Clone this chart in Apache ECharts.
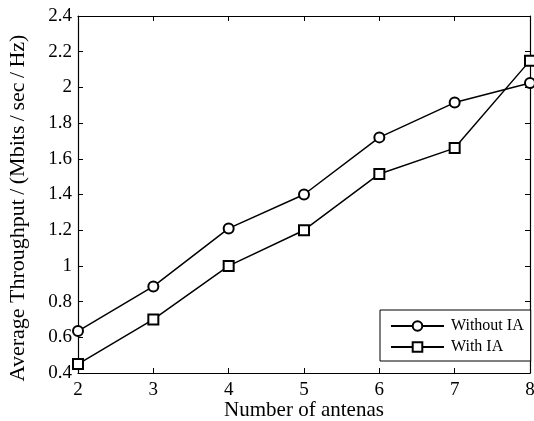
<!DOCTYPE html>
<html><head><meta charset="utf-8">
<script src="https://cdn.jsdelivr.net/npm/echarts@6/dist/echarts.min.js"></script>
<style>html,body{margin:0;padding:0;background:#fff}#c{width:534px;height:421px}</style>
</head><body><div id="c"></div>
<script>
const categories = [2, 3, 4, 5, 6, 7, 8];
const withoutIA = [0.635, 0.885, 1.21, 1.40, 1.72, 1.915, 2.025];
const withIA = [0.45, 0.70, 1.00, 1.20, 1.515, 1.66, 2.15];
const seriesNames = ['Without IA', 'With IA'];
const xTitle = 'Number of antenas';
const yTitle = 'Average Throughput\u2009/\u2009(Mbits\u2009/\u2009sec\u2009/\u2009Hz)';

const font = 'Liberation Serif';
const chart = echarts.init(document.getElementById('c'));
const axisLine = {show: true, lineStyle: {color: '#000', width: 1.2}};
const tick = {show: true, inside: true, length: 5, lineStyle: {color: '#000', width: 1}};
chart.setOption({
  animation: false,
  backgroundColor: '#fff',
  grid: {left: 78, right: 4, top: 16, bottom: 48, containLabel: false, outerBoundsMode: 'none'},
  graphic: [{
    type: 'text', x: 18, y: 208, rotation: Math.PI / 2,
    style: {text: yTitle, fontFamily: font, fontSize: 22, fill: '#000',
      align: 'center', verticalAlign: 'middle'}
  }, {
    type: 'text', x: 304, y: 410,
    style: {text: xTitle, fontFamily: font, fontSize: 21, fill: '#000',
      align: 'center', verticalAlign: 'middle'}
  }],
  legend: {
    data: seriesNames,
    orient: 'vertical', left: 380, top: 310,
    padding: [8, 7, 6, 10], itemGap: 5,
    itemWidth: 53, itemHeight: 12,
    borderColor: '#000', borderWidth: 1, backgroundColor: '#fff', borderRadius: 0,
    textStyle: {fontFamily: font, fontSize: 16, lineHeight: 16, color: '#000', padding: [0, 0, 0, 2]}
  },
  xAxis: [{
    type: 'value', min: 2, max: 8, interval: 1,
    axisLine, axisTick: tick, splitLine: {show: false},
    axisLabel: {fontFamily: font, fontSize: 19, color: '#000', margin: 8}
  }, {
    type: 'value', min: 2, max: 8, interval: 1, position: 'top',
    axisLine, axisTick: tick, axisLabel: {show: false}, splitLine: {show: false}
  }],
  yAxis: [{
    type: 'value', min: 0.4, max: 2.4, interval: 0.2,
    axisLine, axisTick: tick, splitLine: {show: false},
    axisLabel: {fontFamily: font, fontSize: 19, color: '#000', margin: 6,
      formatter: v => String(Math.round(v * 10) / 10)}
  }, {
    type: 'value', min: 0.4, max: 2.4, interval: 0.2, position: 'right',
    axisLine, axisTick: tick, axisLabel: {show: false}, splitLine: {show: false}
  }],
  series: [{
    name: seriesNames[0], type: 'line',
    data: categories.map((x, i) => [x, withoutIA[i]]),
    symbol: 'emptyCircle', symbolSize: 10,
    lineStyle: {color: '#000', width: 1.5},
    itemStyle: {color: '#000', borderColor: '#000', borderWidth: 1.3}
  }, {
    name: seriesNames[1], type: 'line',
    data: categories.map((x, i) => [x, withIA[i]]),
    symbol: 'emptyRect', symbolSize: 10,
    lineStyle: {color: '#000', width: 1.5},
    itemStyle: {color: '#000', borderColor: '#000', borderWidth: 1.3}
  }]
});
</script></body></html>
